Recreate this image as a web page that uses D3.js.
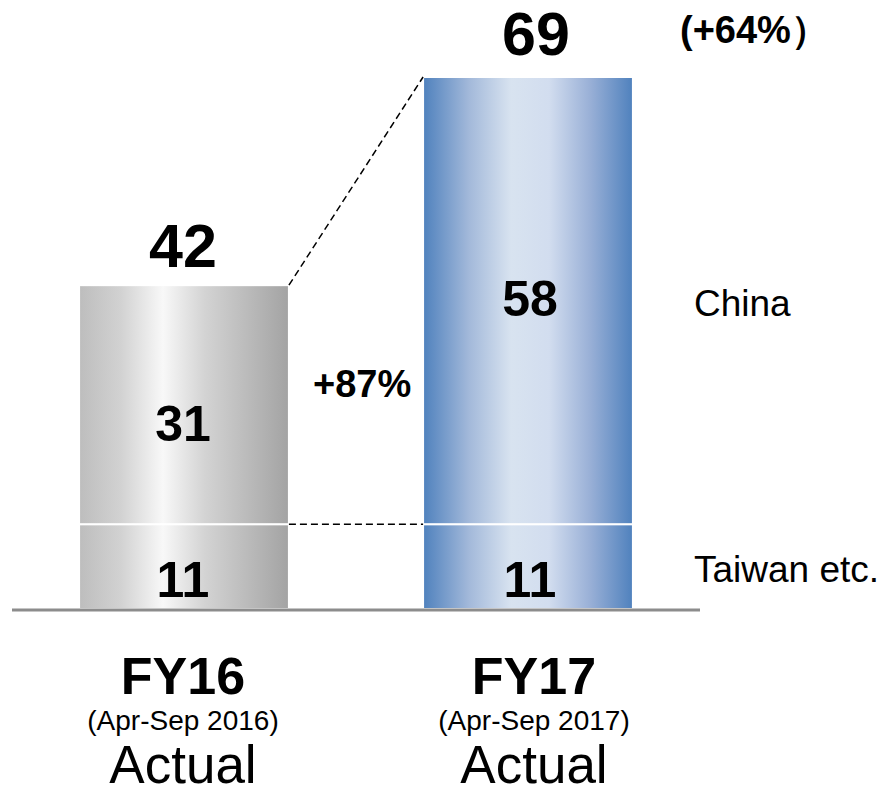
<!DOCTYPE html>
<html><head><meta charset="utf-8">
<script src="https://cdn.jsdelivr.net/npm/d3@7"></script>
<style>body{margin:0;background:#fff}svg{display:block;font-family:"Liberation Sans",Arial,sans-serif}</style>
</head><body><svg id="c" width="884" height="786"></svg>
<script>
const categories = ["FY16", "FY17"];
const periods = ["(Apr-Sep 2016)", "(Apr-Sep 2017)"];
const subLabels = ["Actual", "Actual"];
const segments = ["Taiwan etc.", "China"];
const taiwan = [11, 11];
const china = [31, 58];
const totals = [42, 69];
const growthChina = "+87%";
const growthTotal = "(+64%）";

const svg = d3.select("#c");
const baseY = 609;
const x = d3.scaleBand().domain(categories).range([12, 700]).paddingInner(0.39).paddingOuter(0.195);
const y = d3.scaleLinear().domain([0, 69]).range([baseY, 77]);

const defs = svg.append("defs");
const g1 = defs.append("linearGradient").attr("id","gGray").attr("x1","0").attr("x2","1").attr("y1","0").attr("y2","0");
[[0,"#bdbdbd"],[0.2,"#d2d2d2"],[0.4,"#f8f8f8"],[0.6,"#d3d3d3"],[1,"#a3a3a3"]].forEach(s=>g1.append("stop").attr("offset",s[0]).attr("stop-color",s[1]));
const g2 = defs.append("linearGradient").attr("id","gBlue").attr("x1","0").attr("x2","1").attr("y1","0").attr("y2","0");
[[0,"#4f81bd"],[0.22,"#a3b9da"],[0.42,"#d8e3f0"],[0.6,"#d2ddef"],[0.8,"#98afd6"],[1,"#4f81bd"]].forEach(s=>g2.append("stop").attr("offset",s[0]).attr("stop-color",s[1]));
const fills = ["url(#gGray)","url(#gBlue)"];

const stacked = categories.map((c,i)=>[
  {seg:0, y0:0, y1:taiwan[i], v:taiwan[i]},
  {seg:1, y0:taiwan[i], y1:taiwan[i]+china[i], v:china[i]}
]);
const labelDy = [[30, 36], [30, 15]];
const textShift = [-1, 6];

categories.forEach((c,i)=>{
  const cx = x(c)+x.bandwidth()/2;
  const g = svg.append("g");
  g.selectAll("rect").data(stacked[i]).join("rect")
    .attr("x", x(c)).attr("width", x.bandwidth())
    .attr("y", d=>y(d.y1)).attr("height", d=>y(d.y0)-y(d.y1))
    .attr("fill", fills[i]).attr("stroke","#fff").attr("stroke-width",2);
  g.selectAll("text.v").data(stacked[i]).join("text").attr("class","v")
    .attr("x", cx + (i===1?2:-1))
    .attr("y", d=> (y(d.y0)+y(d.y1))/2 + labelDy[i][d.seg])
    .attr("text-anchor","middle").attr("font-size",50).attr("font-weight","bold").text(d=>d.v);
  svg.append("text").attr("x", cx + textShift[i] + (i===1?2:0)).attr("y", y(totals[i]) - (i===0?18:22))
    .attr("text-anchor","middle").attr("font-size",61).attr("font-weight","bold").text(totals[i]);
  svg.append("text").attr("x", cx + textShift[i]).attr("y", 694)
    .attr("text-anchor","middle").attr("font-size",52).attr("font-weight","bold").text(c);
  svg.append("text").attr("x", cx + textShift[i]).attr("y", 730)
    .attr("text-anchor","middle").attr("font-size",28).text(periods[i]);
  svg.append("text").attr("x", cx + textShift[i]).attr("y", 783)
    .attr("text-anchor","middle").attr("font-size",53).text(subLabels[i]);
});

// baseline
svg.append("line").attr("x1",12).attr("x2",700).attr("y1",baseY+1).attr("y2",baseY+1).attr("stroke","#8c8c8c").attr("stroke-width",3);

// dashed connectors
const xr0 = x(categories[0])+x.bandwidth(), xl1 = x(categories[1]);
svg.append("line").attr("x1",xr0).attr("y1",y(totals[0])).attr("x2",xl1).attr("y2",y(totals[1]))
  .attr("stroke","#000").attr("stroke-width",1.5).attr("stroke-dasharray","7,4");
svg.append("line").attr("x1",xr0).attr("y1",y(taiwan[0])).attr("x2",xl1).attr("y2",y(taiwan[1]))
  .attr("stroke","#000").attr("stroke-width",1.5).attr("stroke-dasharray","7,4");

svg.append("text").attr("x",313).attr("y",397).attr("font-size",38).attr("font-weight","bold").text(growthChina);
svg.append("text").attr("x",680).attr("y",43).attr("font-size",38).attr("font-weight","bold").text(growthTotal);

// segment labels
svg.append("text").attr("x",694).attr("y",316).attr("font-size",37).text(segments[1]);
svg.append("text").attr("x",694).attr("y",582).attr("font-size",37).text(segments[0]);
</script></body></html>
